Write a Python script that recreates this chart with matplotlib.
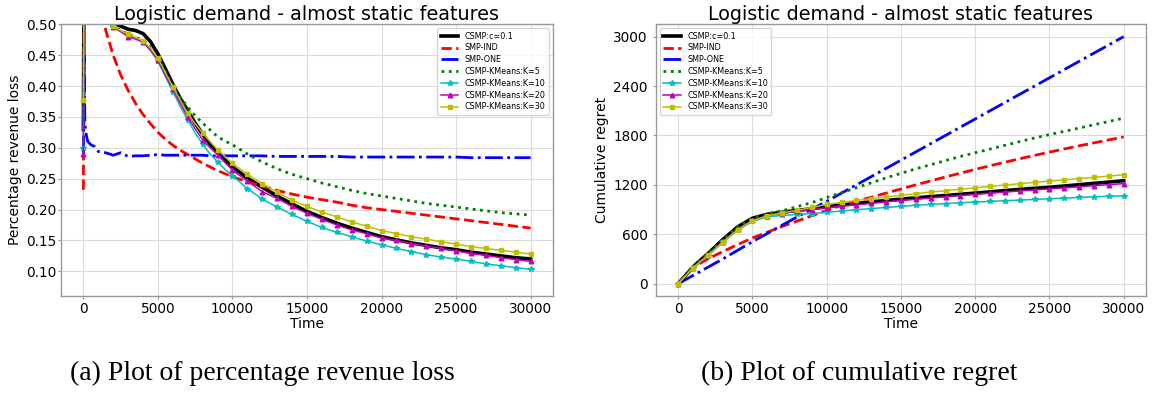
import matplotlib
matplotlib.use("Agg")
import matplotlib.pyplot as plt

# ---- left panel: percentage revenue loss ----
t_loss = [0, 50, 100, 200, 300, 500, 750, 1000, 1500, 2000, 2500, 3000, 3500,
          4000, 4500, 5000, 5500, 6000, 6500, 7000, 7500, 8000, 8500, 9000,
          9500, 10000, 11000, 12000, 13000, 14000, 15000, 16000, 17000, 18000,
          19000, 20000, 21000, 22000, 23000, 24000, 25000, 26000, 27000, 28000,
          29000, 30000]

loss_csmp = [0.33, 0.62, 0.70, 0.68, 0.65, 0.60, 0.56, 0.54, 0.515, 0.503, 0.497,
             0.492, 0.490, 0.485, 0.472, 0.452, 0.428, 0.403, 0.380, 0.360,
             0.340, 0.322, 0.306, 0.292, 0.280, 0.269, 0.251, 0.236, 0.222,
             0.209, 0.197, 0.187, 0.178, 0.170, 0.163, 0.156, 0.151, 0.146,
             0.142, 0.138, 0.135, 0.131, 0.128, 0.125, 0.122, 0.120]
loss_ind = [0.232, 0.60, 0.75, 0.72, 0.68, 0.63, 0.58, 0.55, 0.49, 0.45, 0.418,
            0.393, 0.372, 0.354, 0.339, 0.325, 0.314, 0.304, 0.296, 0.289,
            0.282, 0.275, 0.269, 0.263, 0.258, 0.253, 0.245, 0.238, 0.231,
            0.225, 0.220, 0.216, 0.212, 0.207, 0.203, 0.200, 0.197, 0.194,
            0.191, 0.188, 0.185, 0.182, 0.179, 0.176, 0.173, 0.170]
loss_one = [0.29, 0.45, 0.34, 0.32, 0.31, 0.305, 0.302, 0.294, 0.292, 0.288,
            0.292, 0.286, 0.287, 0.287, 0.288, 0.289, 0.288, 0.288, 0.288,
            0.288, 0.288, 0.288, 0.287, 0.287, 0.287, 0.287, 0.287, 0.287,
            0.286, 0.286, 0.286, 0.286, 0.286, 0.285, 0.285, 0.285, 0.285,
            0.285, 0.285, 0.285, 0.285, 0.284, 0.284, 0.284, 0.284, 0.284]
loss_k5 = [0.35, 0.62, 0.70, 0.68, 0.65, 0.60, 0.56, 0.54, 0.505, 0.497, 0.490,
           0.484, 0.479, 0.474, 0.463, 0.446, 0.423, 0.400, 0.382, 0.366,
           0.352, 0.340, 0.329, 0.318, 0.311, 0.305, 0.290, 0.277, 0.266,
           0.257, 0.250, 0.243, 0.237, 0.231, 0.226, 0.222, 0.218, 0.214,
           0.210, 0.207, 0.204, 0.201, 0.198, 0.195, 0.193, 0.191]
loss_k10 = [0.30, 0.60, 0.70, 0.68, 0.65, 0.60, 0.56, 0.54, 0.505, 0.496, 0.490,
            0.482, 0.478, 0.472, 0.458, 0.440, 0.415, 0.391, 0.367, 0.345,
            0.324, 0.306, 0.290, 0.277, 0.265, 0.255, 0.234, 0.217, 0.204,
            0.192, 0.181, 0.171, 0.163, 0.156, 0.149, 0.143, 0.137, 0.132,
            0.127, 0.123, 0.120, 0.116, 0.112, 0.109, 0.106, 0.103]
loss_k20 = [0.29, 0.60, 0.70, 0.68, 0.65, 0.60, 0.56, 0.54, 0.505, 0.496, 0.488,
            0.480, 0.476, 0.471, 0.458, 0.442, 0.418, 0.395, 0.372, 0.350,
            0.331, 0.313, 0.300, 0.289, 0.276, 0.264, 0.246, 0.229, 0.218,
            0.205, 0.194, 0.184, 0.175, 0.167, 0.161, 0.154, 0.150, 0.145,
            0.141, 0.137, 0.133, 0.129, 0.126, 0.122, 0.119, 0.116]
loss_k30 = [0.377, 0.60, 0.70, 0.68, 0.65, 0.60, 0.56, 0.54, 0.505, 0.497, 0.490,
            0.484, 0.479, 0.473, 0.462, 0.445, 0.422, 0.399, 0.377, 0.356,
            0.339, 0.324, 0.310, 0.297, 0.286, 0.275, 0.257, 0.242, 0.228,
            0.215, 0.205, 0.196, 0.188, 0.180, 0.173, 0.166, 0.161, 0.156,
            0.152, 0.148, 0.144, 0.140, 0.137, 0.134, 0.131, 0.128]

# ---- right panel: cumulative regret ----
t_regret = list(range(0, 30001, 1000))

reg_csmp = [0, 205, 365, 535, 690, 795, 843, 868, 889, 910, 935, 955, 975, 993,
            1010, 1027, 1042, 1057, 1071, 1085, 1100, 1115, 1130, 1145, 1158,
            1170, 1186, 1202, 1218, 1234, 1250]
reg_ind = [0, 200, 300, 390, 475, 555, 625, 695, 760, 825, 890, 950, 1000, 1050,
           1100, 1150, 1200, 1248, 1296, 1342, 1388, 1432, 1475, 1517, 1558,
           1598, 1636, 1674, 1710, 1746, 1782]
reg_one = [0, 100, 200, 300, 405, 510, 610, 710, 810, 905, 1000, 1100, 1200,
           1300, 1400, 1500, 1600, 1700, 1800, 1900, 2000, 2100, 2200, 2300,
           2400, 2500, 2600, 2700, 2800, 2900, 3000]
reg_k5 = [0, 205, 365, 535, 690, 795, 850, 885, 935, 985, 1045, 1105, 1165,
          1225, 1285, 1340, 1395, 1445, 1495, 1545, 1590, 1635, 1680, 1725,
          1770, 1810, 1850, 1890, 1930, 1970, 2010]
reg_k10 = [0, 190, 340, 500, 650, 755, 812, 828, 840, 852, 866, 882, 898, 912,
           925, 938, 952, 962, 973, 982, 991, 999, 1007, 1015, 1023, 1031, 1039,
           1047, 1055, 1061, 1068]
reg_k20 = [0, 195, 350, 510, 660, 770, 825, 855, 880, 900, 922, 940, 958, 975,
           993, 1010, 1025, 1040, 1055, 1070, 1085, 1099, 1112, 1125, 1138, 1150,
           1163, 1176, 1189, 1202, 1215]
reg_k30 = [0, 195, 345, 505, 655, 763, 824, 860, 890, 926, 962, 987, 1011, 1031,
           1052, 1073, 1092, 1112, 1129, 1147, 1163, 1181, 1198, 1214, 1230, 1246,
           1262, 1276, 1291, 1306, 1322]

labels = ["CSMP:c=0.1", "SMP-IND", "SMP-ONE", "CSMP-KMeans:K=5",
          "CSMP-KMeans:K=10", "CSMP-KMeans:K=20", "CSMP-KMeans:K=30"]
title = "Logistic demand - almost static features"

styles = [
    dict(color="k", lw=2.6, ls="-"),
    dict(color="r", lw=2.0, ls="--"),
    dict(color="b", lw=2.0, ls="-."),
    dict(color="g", lw=2.0, ls=":"),
    dict(color="c", lw=1.1, ls="-", marker="*", ms=3.8),
    dict(color="m", lw=1.1, ls="-", marker="^", ms=3.3),
    dict(color="y", lw=1.1, ls="-", marker="s", ms=3.3),
]

GRID = "#dcdcdc"
SPINE = "#999999"


def style_axes(ax, ypad):
    ax.grid(True, color=GRID, lw=0.8)
    ax.set_axisbelow(True)
    for sp in ax.spines.values():
        sp.set_color(SPINE)
        sp.set_linewidth(1.0)
    ax.tick_params(axis="both", colors=SPINE, length=2, width=0.8,
                   labelsize=9.8, labelcolor="black")
    ax.tick_params(axis="x", pad=2)
    ax.tick_params(axis="y", pad=ypad)
    ax.set_xticks([0, 5000, 10000, 15000, 20000, 25000, 30000])
    ax.set_xlabel("Time", fontsize=10, labelpad=1)
    ax.set_title(title, fontsize=13.8, pad=3)


fig = plt.figure(figsize=(11.6, 3.93), dpi=100)
ax1 = fig.add_axes([0.0526, 0.2468, 0.4241, 0.6914])
ax2 = fig.add_axes([0.5655, 0.2468, 0.4224, 0.6914])

loss_series = [loss_csmp, loss_ind, loss_one, loss_k5, loss_k10, loss_k20, loss_k30]
mark_idx = [i for i, t in enumerate(t_loss) if t % 1000 == 0]
for ys, lab, st in zip(loss_series, labels, styles):
    kw = dict(st)
    if "marker" in kw:
        kw["markevery"] = mark_idx
    ax1.plot(t_loss, ys, label=lab, **kw)
style_axes(ax1, ypad=1)
ax1.set_ylim(0.06, 0.50)
ax1.set_yticks([0.10, 0.15, 0.20, 0.25, 0.30, 0.35, 0.40, 0.45, 0.50])
ax1.set_ylabel("Percentage revenue loss", fontsize=10, labelpad=3)
ax1.legend(loc="upper right", fontsize=5.8, labelspacing=0.35,
           handlelength=2.2, borderpad=0.4, framealpha=0.8)

reg_series = [reg_csmp, reg_ind, reg_one, reg_k5, reg_k10, reg_k20, reg_k30]
for ys, lab, st in zip(reg_series, labels, styles):
    ax2.plot(t_regret, ys, label=lab, **st)
style_axes(ax2, ypad=4)
ax2.set_yticks([0, 600, 1200, 1800, 2400, 3000])
ax2.set_ylabel("Cumulative regret", fontsize=10, labelpad=3)
ax2.legend(loc="upper left", fontsize=5.8, labelspacing=0.35,
           handlelength=2.2, borderpad=0.4, framealpha=0.8)

cap_font = dict(family=["Liberation Serif", "DejaVu Serif"], fontsize=20)
fig.text(70 / 1160, 13 / 393, "(a) Plot of percentage revenue loss",
         ha="left", va="baseline", **cap_font)
fig.text(700.7 / 1160, 13 / 393, "(b) Plot of cumulative regret",
         ha="left", va="baseline", **cap_font)

fig.savefig("out.png", dpi=100)
plt.close(fig)
